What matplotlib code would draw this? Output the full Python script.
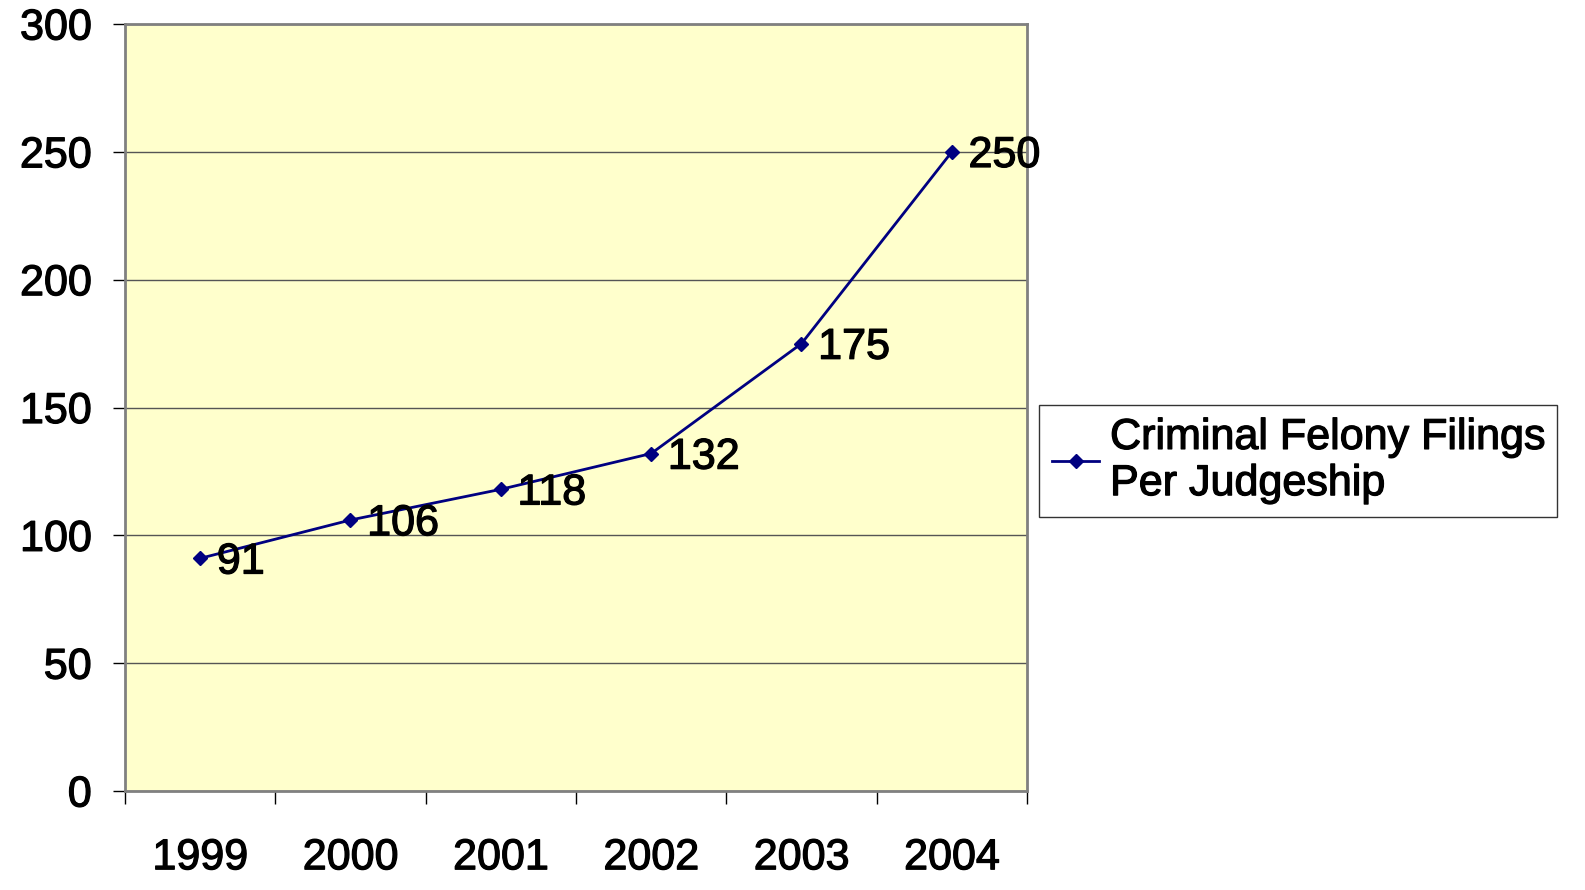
import matplotlib
matplotlib.use("Agg")
import matplotlib.pyplot as plt
import matplotlib.patheffects as pe

years = ["1999", "2000", "2001", "2002", "2003", "2004"]
values = [91, 106, 118, 132, 175, 250]
series_name = "Criminal Felony Filings\nPer Judgeship"
yticks = [0, 50, 100, 150, 200, 250, 300]

plt.rcParams['font.family'] = ['Liberation Sans', 'DejaVu Sans']
FS = 31
THICK = [pe.withStroke(linewidth=0.9, foreground='black')]

fig = plt.figure(figsize=(15.85, 8.9), dpi=100)
ax = fig.add_axes([125/1585, 1 - 791/890, (1027 - 125)/1585, (791 - 24)/890])
ax.set_facecolor('#FFFFCC')

x = list(range(len(years)))
ax.plot(x, values, color='#000080', linewidth=2, marker='D', markersize=7.5,
        markerfacecolor='#000080', markeredgecolor='#000080', label=series_name, zorder=3)

for xi, v in zip(x, values):
    ax.annotate(str(v), (xi, v), xytext=(12, -3), textcoords='offset points',
                ha='left', va='center', fontsize=FS, color='black', zorder=4,
                path_effects=THICK)

ax.set_xlim(-0.5, len(years) - 0.5)
ax.set_ylim(0, 300)
ax.set_yticks(yticks)
ax.set_yticklabels([str(t) for t in yticks], fontsize=FS)
ax.yaxis.grid(True, color='#555555', linewidth=1)
ax.set_axisbelow(True)

# x: category labels centred, ticks at boundaries
ax.set_xticks([i - 0.5 for i in range(len(years) + 1)])
ax.set_xticklabels([''] * (len(years) + 1))
ax.set_xticks(x, minor=True)
ax.set_xticklabels(years, minor=True, fontsize=FS)
ax.tick_params(axis='x', which='minor', length=0, pad=34)
ax.tick_params(axis='x', which='major', length=9, width=1, color='black', direction='out')
ax.tick_params(axis='y', length=9, width=1, color='black', direction='out', pad=15)

for lab in ax.get_yticklabels() + ax.get_xticklabels(minor=True):
    lab.set_path_effects(THICK)

for s in ax.spines.values():
    s.set_color('#808080')
    s.set_linewidth(2)

leg = ax.legend(loc='upper left', bbox_to_anchor=(1039/1585, 1 - 405/890),
                bbox_transform=fig.transFigure, frameon=True,
                prop={'size': FS},
                fancybox=False, shadow=False, borderpad=0.3, handlelength=1.1,
                handletextpad=0.25, borderaxespad=0, labelspacing=0.05)
leg.get_frame().set_edgecolor('black')
leg.get_frame().set_linewidth(1)
for t in leg.get_texts():
    t.set_path_effects(THICK)

fig.savefig('out.png', dpi=100, facecolor='white')
